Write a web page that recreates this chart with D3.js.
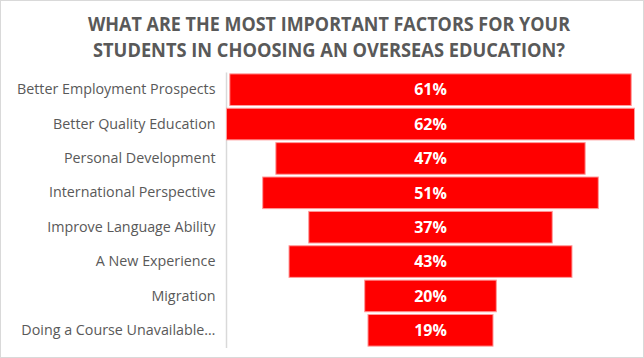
<!DOCTYPE html>
<html>
<head>
<meta charset="utf-8">
<script src="https://cdn.jsdelivr.net/npm/d3@7"></script>
<style>
  body { margin: 0; background: #fff; }
  svg { display: block; }
</style>
</head>
<body>
<script>
const categories = [
  'Better Employment Prospects',
  'Better Quality Education',
  'Personal Development',
  'International Perspective',
  'Improve Language Ability',
  'A New Experience',
  'Migration',
  'Doing a Course Unavailable…'
];
const values = [61, 62, 47, 51, 37, 43, 20, 19];
const titleLines = [
  'WHAT ARE THE MOST IMPORTANT FACTORS FOR YOUR',
  'STUDENTS IN CHOOSING AN OVERSEAS EDUCATION?'
];

const width = 644;
const height = 358;
const data = categories.map((c, i) => ({ name: c, value: values[i] }));

const svg = d3.select('body')
  .append('svg')
  .attr('width', width)
  .attr('height', height);

// outer frame
svg.append('rect')
  .attr('x', 0.5)
  .attr('y', 0.5)
  .attr('width', width - 1)
  .attr('height', height - 1)
  .attr('fill', '#fff')
  .attr('stroke', '#d9d9d9');

// title
svg.selectAll('.title')
  .data(titleLines)
  .enter()
  .append('text')
  .attr('class', 'title')
  .attr('x', 329)
  .attr('y', (d, i) => 31 + i * 26)
  .attr('text-anchor', 'middle')
  .attr('font-family', 'Open Sans, sans-serif')
  .attr('font-weight', 'bold')
  .attr('font-size', 19)
  .attr('fill', '#595959')
  .attr('textLength', (d, i) => i === 0 ? 482 : 472)
  .attr('lengthAdjust', 'spacingAndGlyphs')
  .text(d => d);

// centred scale: bars grow out from the middle
const maxV = d3.max(values);
const xScale = d3.scaleLinear()
  .domain([-maxV / 2, maxV / 2])
  .range([226.5, 634.5]);

const yScale = d3.scaleBand()
  .domain(categories)
  .range([72.5, 347.5])
  .paddingInner(0.08)
  .paddingOuter(0.04);

const yAxis = d3.axisLeft(yScale).tickSize(0).tickPadding(11);

const axisG = svg.append('g')
  .attr('transform', 'translate(226.5,0)')
  .call(yAxis);

axisG.select('.domain')
  .attr('stroke', '#d9d9d9')
  .attr('stroke-width', 1.5)
  .attr('d', 'M0,72.5V348');

axisG.selectAll('.tick text')
  .attr('font-family', 'Open Sans, sans-serif')
  .attr('font-size', 14.3)
  .attr('fill', '#595959');

svg.selectAll('.bar')
  .data(data)
  .enter()
  .append('rect')
  .attr('class', 'bar')
  .attr('x', d => xScale(-d.value / 2))
  .attr('y', d => yScale(d.name))
  .attr('width', d => xScale(d.value / 2) - xScale(-d.value / 2))
  .attr('height', yScale.bandwidth())
  .attr('fill', '#ff0000')
  .attr('stroke', '#ff9a9a')
  .attr('stroke-width', 1);

svg.selectAll('.value')
  .data(data)
  .enter()
  .append('text')
  .attr('class', 'value')
  .attr('x', xScale(0))
  .attr('y', d => yScale(d.name) + yScale.bandwidth() / 2)
  .attr('dy', '0.36em')
  .attr('text-anchor', 'middle')
  .attr('font-family', 'Open Sans, sans-serif')
  .attr('font-weight', 'bold')
  .attr('font-size', 16)
  .attr('fill', '#fff')
  .text(d => d.value + '%');
</script>
</body>
</html>
